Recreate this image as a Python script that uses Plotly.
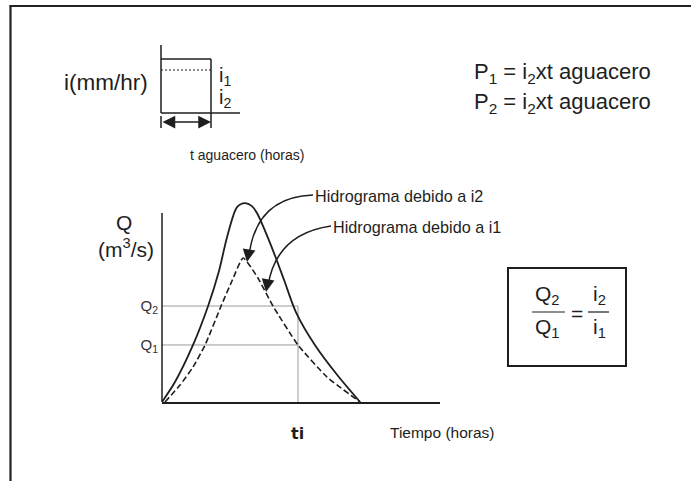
import plotly.graph_objects as go

# ---------------- data ----------------
time_solid = [0, 0.56, 1.34, 1.99, 2.46, 2.81, 3.24, 3.58, 3.88, 4.10, 4.70, 5.27, 5.78, 6.60, 7.60, 8.55]
q_solid = [0, 1.06, 3.03, 5.10, 6.96, 8.77, 10.36, 10.57, 10.41, 10.04, 8.34, 6.48, 4.78, 3.03, 1.38, 0]

time_dashed = [0.13, 0.78, 1.34, 1.86, 2.55, 3.02, 3.50, 4.14, 4.79, 5.87, 7.12, 8.55]
q_dashed = [0, 0.90, 1.86, 3.03, 5.10, 6.43, 7.65, 6.59, 5.10, 3.03, 1.33, 0]

Q1 = 3.03
Q2 = 5.10
ti = 5.87
q_tick_labels = ["Q<sub>1</sub>", "Q<sub>2</sub>"]

W, H = 691, 481
def px(x):
    return x / W
def py(y):
    return 1 - y / H

INK = "#1e1e1e"
ARIAL = "Liberation Sans, Arial, sans-serif"

fig = go.Figure()

# reference lines
fig.add_trace(go.Scatter(x=[0, ti], y=[Q2, Q2], mode="lines", line=dict(color="#9a9a9a", width=1), hoverinfo="skip"))
fig.add_trace(go.Scatter(x=[0, ti], y=[Q1, Q1], mode="lines", line=dict(color="#9a9a9a", width=1), hoverinfo="skip"))
fig.add_trace(go.Scatter(x=[ti, ti], y=[0, Q2], mode="lines", line=dict(color="#9a9a9a", width=1), hoverinfo="skip"))

# hydrographs
fig.add_trace(go.Scatter(x=time_solid, y=q_solid, mode="lines",
                         line=dict(color=INK, width=1.8, shape="spline", smoothing=0.8)))
fig.add_trace(go.Scatter(x=time_dashed, y=q_dashed, mode="lines",
                         line=dict(color=INK, width=1.6, dash="6px,3px", shape="spline", smoothing=0.5)))

shapes = []
def line(x0, y0, x1, y1, w=1.5, c=INK, dash="solid"):
    shapes.append(dict(type="line", xref="paper", yref="paper",
                       x0=px(x0), y0=py(y0), x1=px(x1), y1=py(y1),
                       line=dict(color=c, width=w, dash=dash)))

# frame
line(10.5, 481, 10.5, 5.5, 2.2, "#222")
line(9.5, 6, 691, 6, 2.2, "#222")

# rain block (top-left)
line(161, 45, 161, 113, 1.5)
line(161, 59, 211, 59, 1.5)
line(211, 59, 211, 128, 1.5)
line(161, 70, 211, 70, 1, INK, "2px,2px")
line(161, 113, 240, 113, 1.5)
line(161, 116, 161, 128, 1.5)

# y axis of hydrograph
line(162, 402, 162, 213, 1.5)

# fraction box
shapes.append(dict(type="rect", xref="paper", yref="paper",
                   x0=px(508), y0=py(366), x1=px(626), y1=py(268),
                   line=dict(color=INK, width=2)))
line(532, 312, 565, 312, 1.2)
line(588, 312, 609, 312, 1.2)

# curved leader arrows
def curve(x0, y0, cx, cy, x1, y1):
    shapes.append(dict(type="path", xref="paper", yref="paper",
                       path=f"M {px(x0)},{py(y0)} Q {px(cx)},{py(cy)} {px(x1)},{py(y1)}",
                       line=dict(color=INK, width=1.5)))
curve(313, 195, 256, 197, 249, 256)
curve(331, 226, 276, 234, 268, 286)

annotations = []
def text(t, x, y, size, family=ARIAL, xanchor="center", yanchor="middle", color=INK):
    annotations.append(dict(text=t, x=px(x), y=py(y), xref="paper", yref="paper",
                            showarrow=False, xanchor=xanchor, yanchor=yanchor,
                            font=dict(size=size, family=family, color=color)))

text("i(mm/hr)", 62, 82, 22.5, xanchor="left")
text("i<sub>1</sub>", 217, 76, 20, xanchor="left")
text("i<sub>2</sub>", 217, 98, 20, xanchor="left")
text("t aguacero (horas)", 188, 155, 14, xanchor="left")
text("P<sub>1</sub> = i<sub>2</sub>xt aguacero", 472, 73, 22, xanchor="left")
text("P<sub>2</sub> = i<sub>2</sub>xt aguacero", 472, 103, 22, xanchor="left")
text("Q", 124, 222, 21)
text("(m<sup>3</sup>/s)", 126, 248, 21)
text("Hidrograma debido a i2", 313, 196, 16.2, xanchor="left")
text("Hidrograma debido a i1", 331, 227, 16.2, xanchor="left")
text("Tiempo (horas)", 388, 432, 15.5, xanchor="left")
text("Q<sub>2</sub>", 547, 295, 21)
text("Q<sub>1</sub>", 547, 328, 21)
text("=", 577, 313, 21)
text("i<sub>2</sub>", 599, 295, 21)
text("i<sub>1</sub>", 599, 328, 21)

annotations.append(dict(text="<b>ti</b>", x=ti, xref="x", y=py(433), yref="paper", showarrow=False,
                        xanchor="center", yanchor="middle",
                        font=dict(size=16, family="DejaVu Sans, Verdana, sans-serif", color=INK)))

# arrowheads
def head(x, y, ax, ay, side="end"):
    annotations.append(dict(text="", x=px(x), y=py(y), xref="paper", yref="paper",
                            ax=ax, ay=ay, showarrow=True, arrowhead=2, arrowsize=1.7,
                            arrowwidth=1.5, arrowcolor=INK, arrowside=side,
                            standoff=0, startstandoff=0))
head(247, 262, 2, -12)
head(266, 292, 2, -12)
head(211, 122, -50, 0, "end+start")

fig.update_layout(
    width=W, height=H, margin=dict(l=0, r=0, t=0, b=0),
    paper_bgcolor="white", plot_bgcolor="white", showlegend=False,
    shapes=shapes, annotations=annotations,
    xaxis=dict(domain=[px(162), px(440)], range=[0, 12], showgrid=False, zeroline=False,
               showline=True, linecolor=INK, linewidth=2, showticklabels=False, ticks=""),
    yaxis=dict(domain=[py(402), py(195)], range=[0, 11], showgrid=False, zeroline=False,
               showline=False, tickvals=[Q1, Q2], ticktext=q_tick_labels, ticks="",
               tickfont=dict(size=15, family=ARIAL, color="#333"), ticklabelstandoff=3),
)

fig.write_html("out.html", config={"displayModeBar": False},
               post_script="document.body.style.margin='0';document.body.style.overflow='hidden';")
